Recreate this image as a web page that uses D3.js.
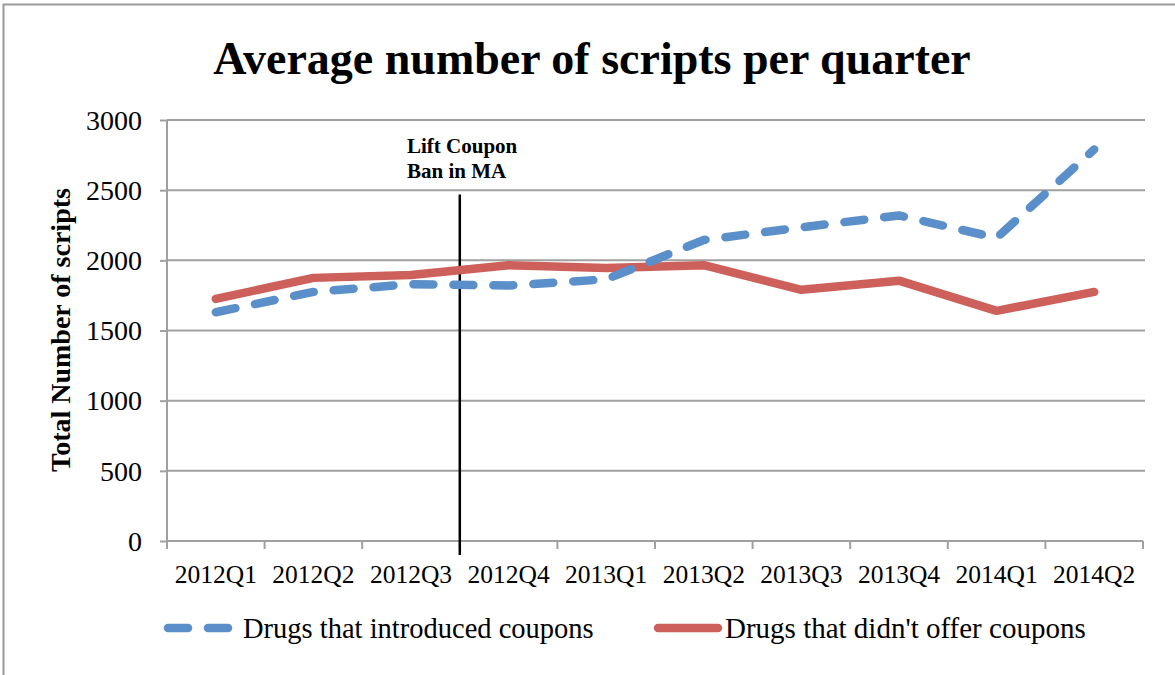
<!DOCTYPE html>
<html>
<head>
<meta charset="utf-8">
<script src="https://cdn.jsdelivr.net/npm/d3@7"></script>
<style>
  html, body { margin: 0; padding: 0; background: #fff; }
  svg { display: block; }
  text { font-family: "Liberation Serif", "DejaVu Serif", serif; fill: #000; }
</style>
</head>
<body>
<svg id="chart" width="1175" height="675"></svg>
<script>
// ---- data ----
const categories = ["2012Q1","2012Q2","2012Q3","2012Q4","2013Q1","2013Q2","2013Q3","2013Q4","2014Q1","2014Q2"];
const introducedCoupons = [1630, 1775, 1830, 1820, 1865, 2145, 2235, 2320, 2160, 2790];
const noCoupons = [1725, 1875, 1895, 1965, 1945, 1965, 1790, 1855, 1640, 1775];
const yTicks = [0, 500, 1000, 1500, 2000, 2500, 3000];
const seriesNames = ["Drugs that introduced coupons", "Drugs that didn't offer coupons"];
const titleText = "Average number of scripts per quarter";
const yTitle = "Total Number of scripts";
const annotationLines = ["Lift Coupon", "Ban in MA"];
const annotationAt = "2012Q4";      // line drawn at the start of this quarter
const annotationRange = [-100, 2470]; // vertical extent of the line, in data units

// ---- layout ----
const svg = d3.select("#chart");
const pLeft = 167, pRight = 1143, pTop = 120, pBottom = 541;
const blue = "#5B8FC9", red = "#CD605A", grid = "#A0A0A0";

const x = d3.scaleBand().domain(categories).range([pLeft, pRight]);
const y = d3.scaleLinear().domain([0, 3000]).range([pBottom, pTop]);
const cx = c => x(c) + x.bandwidth() / 2;

// outer border (only top & left visible)
svg.append("rect").attr("x", 3.5).attr("y", 4.5).attr("width", 1300).attr("height", 800)
  .attr("fill", "none").attr("stroke", "#999").attr("stroke-width", 2);

// title
svg.append("text").attr("x", 592).attr("y", 74).attr("text-anchor", "middle")
  .attr("font-size", 46).attr("font-weight", "bold").text(titleText);

// gridlines
svg.append("g").selectAll("line").data(yTicks.filter(d => d > 0)).join("line")
  .attr("x1", pLeft).attr("x2", pRight + 2).attr("y1", d => y(d)).attr("y2", d => y(d))
  .attr("stroke", grid).attr("stroke-width", 2);

// y axis
const yAxis = svg.append("g").attr("transform", `translate(${pLeft},0)`)
  .call(d3.axisLeft(y).tickValues(yTicks).tickSize(7).tickPadding(18).tickFormat(d3.format("d")));
yAxis.select(".domain").attr("stroke", grid).attr("stroke-width", 2).attr("d", `M0,${pTop}V${pBottom}`);
yAxis.selectAll(".tick line").attr("stroke", grid).attr("stroke-width", 2);
yAxis.selectAll(".tick text").attr("font-size", 28).attr("font-family", "Liberation Serif").attr("fill", "#000").attr("dy", "0.33em");

// x axis
const xAxis = svg.append("g").attr("transform", `translate(0,${pBottom})`)
  .call(d3.axisBottom(x).tickSize(0).tickPadding(0));
xAxis.select(".domain").attr("stroke", grid).attr("stroke-width", 2).attr("d", `M${pLeft},0H${pRight}`);
xAxis.selectAll(".tick text").attr("font-size", 25.5).attr("font-family", "Liberation Serif").attr("fill", "#000").attr("y", 42).attr("dy", 0);
xAxis.selectAll(".tick line").remove();
// boundary ticks
const bounds = categories.map(c => x(c)).concat([pRight]);
xAxis.append("g").selectAll("line").data(bounds).join("line")
  .attr("x1", d => d).attr("x2", d => d).attr("y1", 0).attr("y2", 8)
  .attr("stroke", grid).attr("stroke-width", 2);

// y title
svg.append("text").attr("transform", `translate(70,330) rotate(-90)`).attr("text-anchor", "middle")
  .attr("font-size", 28).attr("font-weight", "bold").text(yTitle);

// annotation line
svg.append("line").attr("x1", x(annotationAt)).attr("x2", x(annotationAt))
  .attr("y1", y(annotationRange[1])).attr("y2", y(annotationRange[0]))
  .attr("stroke", "#000").attr("stroke-width", 2.5);
const ann = svg.append("text").attr("x", 407).attr("y", 153).attr("font-size", 21).attr("font-weight", "bold");
annotationLines.forEach((t, i) => ann.append("tspan").attr("x", 407).attr("dy", i === 0 ? 0 : 25).text(t));

// lines
const line = d3.line().x((d, i) => cx(categories[i])).y(d => y(d));
svg.append("path").datum(noCoupons).attr("d", line).attr("fill", "none")
  .attr("stroke", red).attr("stroke-width", 8.5).attr("stroke-linecap", "round").attr("stroke-linejoin", "round");
svg.append("path").datum(introducedCoupons).attr("d", line).attr("fill", "none")
  .attr("stroke", blue).attr("stroke-width", 8.5).attr("stroke-linecap", "round").attr("stroke-linejoin", "round")
  .attr("stroke-dasharray", "20,20");

// legend
const legY = 628;
svg.append("line").attr("x1", 168).attr("x2", 230).attr("y1", legY).attr("y2", legY)
  .attr("stroke", blue).attr("stroke-width", 8.5).attr("stroke-linecap", "round").attr("stroke-dasharray", "20,20");
svg.append("text").attr("x", 243).attr("y", 638).attr("font-size", 28.5).text(seriesNames[0]);
svg.append("line").attr("x1", 658).attr("x2", 718).attr("y1", legY).attr("y2", legY)
  .attr("stroke", red).attr("stroke-width", 8.5).attr("stroke-linecap", "round");
svg.append("text").attr("x", 725).attr("y", 638).attr("font-size", 29).text(seriesNames[1]);
</script>
</body>
</html>
